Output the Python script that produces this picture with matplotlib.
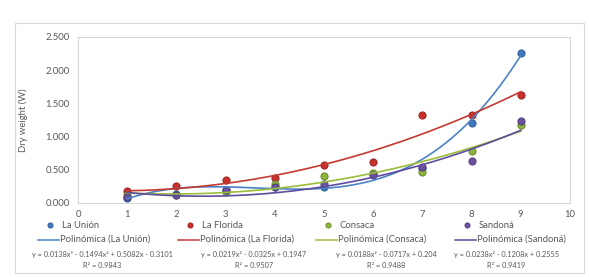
import numpy as np
import matplotlib.pyplot as plt
from matplotlib.lines import Line2D
from matplotlib.patches import Rectangle

plt.rcParams['font.family'] = ['Lato', 'DejaVu Sans']

# Datos
x = [1, 2, 3, 4, 5, 6, 7, 8, 9]
la_union = [0.08, 0.14, 0.20, 0.24, 0.24, 0.44, 0.52, 1.21, 2.26]
la_florida = [0.18, 0.25, 0.34, 0.37, 0.57, 0.62, 1.32, 1.32, 1.62]
consaca = [0.12, 0.12, 0.17, 0.29, 0.41, 0.45, 0.47, 0.79, 1.17]
sandona = [0.09, 0.12, 0.19, 0.24, 0.28, 0.42, 0.54, 0.63, 1.24]

# Coeficientes de las lineas de tendencia (de la leyenda)
coef_union = [0.0138, -0.1494, 0.5082, -0.3101]
coef_florida = [0.0219, -0.0325, 0.1947]
coef_consaca = [0.0188, -0.0717, 0.204]
coef_sandona = [0.0238, -0.1208, 0.2555]

names = ["La Unión", "La Florida", "Consaca", "Sandoná"]
values = [la_union, la_florida, consaca, sandona]
coefs = [coef_union, coef_florida, coef_consaca, coef_sandona]
eqs = ["y = 0.0138x³ - 0.1494x² + 0.5082x - 0.3101",
       "y = 0.0219x² - 0.0325x + 0.1947",
       "y = 0.0188x² - 0.0717x + 0.204",
       "y = 0.0238x² - 0.1208x + 0.2555"]
r2 = ["R² = 0.9843", "R² = 0.9507", "R² = 0.9488", "R² = 0.9419"]

marker_colors = ["#3F78BE", "#C8302C", "#8DB43A", "#6B52A0"]
edge_colors = ["#2A5590", "#8E1E1A", "#5F7F22", "#4A3775"]
line_colors = ["#4A82C4", "#C43A33", "#9BBE3A", "#5E4C9C"]
gray = "#595959"

W, H = 589, 277
fig = plt.figure(figsize=(W / 100, H / 100), dpi=100)

# borde del grafico
fig.add_artist(Rectangle((15 / W, 1 - 273 / H), 569 / W, 250 / H,
                         transform=fig.transFigure, fill=False,
                         edgecolor="#D9D9D9", lw=0.8))

ax = fig.add_axes([78 / W, 1 - 203 / H, 492 / W, 166 / H])

xs = np.linspace(1, 9, 200)
for vals, mc, ec in zip(values, marker_colors, edge_colors):
    ax.plot(x, vals, 'o', ms=5.2, mfc=mc, mec=ec, mew=0.6, zorder=3)
for c, lc in zip(coefs, line_colors):
    ax.plot(xs, np.polyval(c, xs), color=lc, lw=1.2, zorder=4)

ax.set_xlim(0, 10)
ax.set_ylim(0, 2.5)
ax.set_xticks(range(0, 11))
ax.set_yticks(np.arange(0, 2.51, 0.5))
ax.set_yticklabels([f"{v:.3f}" for v in np.arange(0, 2.51, 0.5)])
ax.tick_params(length=0, labelsize=6.8, colors=gray, pad=6)
ax.tick_params(axis='x', pad=5)
for s in ax.spines.values():
    s.set_color("#D9D9D9")
    s.set_linewidth(0.8)
fig.text(23 / W, 1 - 120 / H, "Dry weight (W)", rotation=90, ha='center',
         va='center', fontsize=6.8, color=gray)

# leyenda manual
line_x0 = [38, 178, 316, 455]
for i in range(4):
    x0 = line_x0[i]
    x1 = x0 + 21
    fig.add_artist(Line2D([(x1 - 9) / W], [1 - 225 / H], marker='o', ms=3.8,
                          mfc=marker_colors[i], mec=edge_colors[i], mew=0.5,
                          transform=fig.transFigure))
    fig.text((x1 + 3) / W, 1 - 225 / H, names[i], ha='left', va='center',
             fontsize=6.8, color=gray)
    fig.add_artist(Line2D([x0 / W, x1 / W], [1 - 239.5 / H, 1 - 239.5 / H],
                          color=line_colors[i], lw=1.1,
                          transform=fig.transFigure))
    fig.text((x1 + 1) / W, 1 - 239.5 / H, f"Polinómica ({names[i]})",
             ha='left', va='center', fontsize=6.8, color=gray)

eq_cx = [102, 254, 386, 506]
for i in range(4):
    fig.text(eq_cx[i] / W, 1 - 255 / H, eqs[i], ha='center', va='center',
             fontsize=5.3, color=gray)
    fig.text(eq_cx[i] / W, 1 - 266 / H, r2[i], ha='center', va='center',
             fontsize=5.3, color=gray)

fig.savefig("out.png", dpi=100)
